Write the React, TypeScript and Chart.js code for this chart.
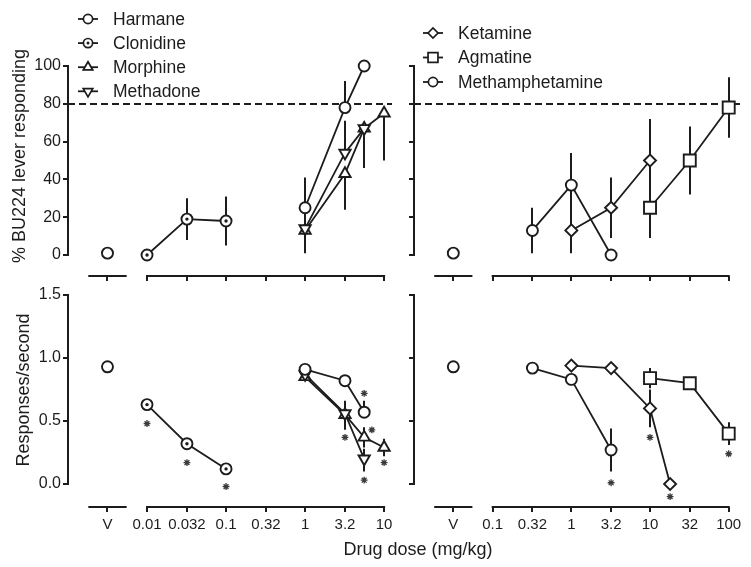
import React, { useEffect, useRef } from 'react';
import { Chart, registerables } from 'chart.js';
import { drawPoint } from 'chart.js/helpers';

Chart.register(...registerables);

// ---------------- axes ----------------
const LEFT_X_TICKS = [0.01, 0.032, 0.1, 0.32, 1, 3.2, 10];
const LEFT_X_LABELS = ['V', '0.01', '0.032', '0.1', '0.32', '1', '3.2', '10'];
const RIGHT_X_TICKS = [0.1, 0.32, 1, 3.2, 10, 32, 100];
const RIGHT_X_LABELS = ['V', '0.1', '0.32', '1', '3.2', '10', '32', '100'];
const V_LEFT = 0.00316; // vehicle position on left dose axis
const V_RIGHT = 0.0316; // vehicle position on right dose axis
const PCT_TICKS = [0, 20, 40, 60, 80, 100];
const PCT_LABELS = ['0', '20', '40', '60', '80', '100'];
const RATE_TICKS = [0, 0.5, 1, 1.5];
const RATE_LABELS = ['0.0', '0.5', '1.0', '1.5'];
const CRITERION = 80;

const LEFT_LEGEND = ['Harmane', 'Clonidine', 'Morphine', 'Methadone'];
const RIGHT_LEGEND = ['Ketamine', 'Agmatine', 'Methamphetamine'];

// ---------------- left panels ----------------
const VEH_L_PCT = 1;
const VEH_L_RATE = 0.93;
const VEH_L_RATE_ERR = 0.04;

const HARMANE_DOSE = [1, 3.2, 5.6];
const HARMANE_PCT = [25, 78, 100];
const HARMANE_PCT_ERR: any[] = [[0, 16], [0, 14], 0];
const HARMANE_RATE = [0.91, 0.82, 0.57];
const HARMANE_RATE_ERR: any[] = [0.02, 0.02, [0, 0.09]];

const CLONIDINE_DOSE = [0.01, 0.032, 0.1];
const CLONIDINE_PCT = [0, 19, 18];
const CLONIDINE_PCT_ERR: any[] = [0, 11, 13];
const CLONIDINE_RATE = [0.63, 0.32, 0.12];
const CLONIDINE_RATE_ERR: any[] = [0.02, 0.04, 0.02];

const MORPHINE_DOSE = [1, 3.2, 5.6, 10];
const MORPHINE_PCT = [13, 43, 67, 75];
const MORPHINE_PCT_ERR: any[] = [[12, 0], [19, 0], [21, 0], [25, 0]];
const MORPHINE_RATE = [0.85, 0.55, 0.37, 0.29];
const MORPHINE_RATE_ERR: any[] = [0.02, [0.12, 0], 0.08, 0.07];

const METHADONE_DOSE = [1, 3.2, 5.6];
const METHADONE_PCT = [14, 54, 67];
const METHADONE_PCT_ERR: any[] = [[0, 12], [0, 17], 0];
const METHADONE_RATE = [0.87, 0.56, 0.2];
const METHADONE_RATE_ERR: any[] = [0.02, [0, 0.1], [0.1, 0.08]];

const LEFT_STAR_DOSE = [0.01, 0.032, 0.1, 3.2, 5.6, 7, 5.6, 10];
const LEFT_STAR_RATE = [0.48, 0.17, -0.02, 0.37, 0.72, 0.43, 0.03, 0.17];

// ---------------- right panels ----------------
const VEH_R_PCT = 1;
const VEH_R_RATE = 0.93;
const VEH_R_RATE_ERR = 0.03;

const KETAMINE_PCT_DOSE = [1, 3.2, 10];
const KETAMINE_PCT = [13, 25, 50];
const KETAMINE_PCT_ERR: any[] = [12, 16, 22];
const KETAMINE_RATE_DOSE = [1, 3.2, 10, 18];
const KETAMINE_RATE = [0.94, 0.92, 0.6, 0.0];
const KETAMINE_RATE_ERR: any[] = [0.02, 0.02, 0.15, 0];

const AGMATINE_DOSE = [10, 32, 100];
const AGMATINE_PCT = [25, 50, 78];
const AGMATINE_PCT_ERR: any[] = [16, 18, 16];
const AGMATINE_RATE = [0.84, 0.8, 0.4];
const AGMATINE_RATE_ERR: any[] = [0.08, 0.03, 0.09];

const METH_DOSE = [0.32, 1, 3.2];
const METH_PCT = [13, 37, 0];
const METH_PCT_ERR: any[] = [12, 17, 0];
const METH_RATE = [0.92, 0.83, 0.27];
const METH_RATE_ERR: any[] = [0.02, 0.03, 0.17];

const RIGHT_STAR_DOSE = [3.2, 10, 18, 100];
const RIGHT_STAR_RATE = [0.01, 0.37, -0.1, 0.24];

// ---------------- styling ----------------
const INK = '#1c1c1c';
const FONT = "'Liberation Sans', Arial, Helvetica, sans-serif";
const CW = 751;
const CH = 567;
const Y_AXIS_W = 50;
const X_AXIS_H = 40;

function series(label: string, doses: number[], vals: number[], errs: any[] | null, mk: any, showLine = true) {
  return {
    label,
    data: doses.map((d, i) => ({ x: d, y: vals[i] })),
    errs,
    showLine,
    borderColor: INK,
    borderWidth: 1.8,
    backgroundColor: '#fff',
    pointStyle: mk.style,
    pointRadius: mk.radius,
    pointHoverRadius: mk.radius,
    pointRotation: mk.rotation || 0,
    pointBackgroundColor: '#fff',
    pointBorderColor: INK,
    pointBorderWidth: 1.9,
    clip: false,
  };
}

// centre dot for the "dotted circle" (clonidine) marker, drawn from the same data
function centreDots(doses: number[], vals: number[]) {
  return {
    label: 'dot',
    data: doses.map((d, i) => ({ x: d, y: vals[i] })),
    errs: null,
    showLine: false,
    pointStyle: 'circle',
    pointRadius: 1.7,
    pointHoverRadius: 1.7,
    pointBackgroundColor: INK,
    pointBorderColor: INK,
    pointBorderWidth: 0,
    clip: false,
  };
}

function stars(doses: number[], vals: number[]) {
  return {
    label: 'significance',
    data: doses.map((d, i) => ({ x: d, y: vals[i] })),
    errs: null,
    showLine: false,
    pointStyle: 'star',
    pointRadius: 3.4,
    pointHoverRadius: 3.4,
    pointBorderColor: '#3a3a3a',
    pointBorderWidth: 1.3,
    pointBackgroundColor: '#3a3a3a',
    clip: false,
  };
}

const errorBarPlugin = {
  id: 'errbars',
  beforeDatasetsDraw(chart: any) {
    const { ctx } = chart;
    const xs = chart.scales.x;
    const ys = chart.scales.y;
    ctx.save();
    ctx.strokeStyle = INK;
    ctx.lineWidth = 2;
    chart.data.datasets.forEach((d: any) => {
      if (!d.errs) return;
      d.data.forEach((p: any, i: number) => {
        const e = d.errs[i];
        const [lo, hi] = typeof e === 'number' ? [e, e] : e;
        if (!lo && !hi) return;
        const x = Math.round(xs.getPixelForValue(p.x));
        ctx.beginPath();
        ctx.moveTo(x, ys.getPixelForValue(p.y - lo));
        ctx.lineTo(x, ys.getPixelForValue(p.y + hi));
        ctx.stroke();
      });
    });
    ctx.restore();
  },
};

function buildConfig(p: any) {
  const xTickValues = [p.vDose, ...p.tickDoses];
  const axesPlugin = {
    id: 'brokenAxes',
    beforeDatasetsDraw(chart: any) {
      const { ctx, chartArea } = chart;
      const xs = chart.scales.x;
      const ys = chart.scales.y;
      ctx.save();
      ctx.strokeStyle = INK;
      ctx.lineWidth = 2;
      const left = Math.round(chartArea.left);
      const bottom = Math.round(chartArea.bottom);
      ctx.beginPath();
      ctx.moveTo(left, ys.getPixelForValue(p.yTicks[p.yTicks.length - 1]) - 1);
      ctx.lineTo(left, ys.getPixelForValue(p.yTicks[0]) + 1);
      ctx.stroke();
      const segs = [
        [p.vDose / Math.pow(10, 0.23), p.vDose * Math.pow(10, 0.23)],
        [p.tickDoses[0], p.tickDoses[p.tickDoses.length - 1]],
      ];
      segs.forEach(([a, b]) => {
        ctx.beginPath();
        ctx.moveTo(xs.getPixelForValue(a) - 1, bottom);
        ctx.lineTo(xs.getPixelForValue(b) + 1, bottom);
        ctx.stroke();
      });
      if (p.refLine != null) {
        const y = Math.round(ys.getPixelForValue(p.refLine));
        ctx.setLineDash([7, 4]);
        ctx.beginPath();
        ctx.moveTo(left, y);
        ctx.lineTo(chartArea.right, y);
        ctx.stroke();
      }
      ctx.restore();
    },
  };
  const legendPlugin = {
    id: 'lineLegend',
    afterDraw(chart: any) {
      if (!p.legend) return;
      const { ctx } = chart;
      const L = p.legend;
      ctx.save();
      L.items.forEach((it: any, i: number) => {
        const y = L.y0 + i * L.step;
        const cx = (L.x0 + L.x1) / 2;
        ctx.strokeStyle = INK;
        ctx.lineWidth = 1.8;
        ctx.beginPath();
        ctx.moveTo(L.x0, y);
        ctx.lineTo(L.x1, y);
        ctx.stroke();
        ctx.fillStyle = '#fff';
        ctx.strokeStyle = INK;
        ctx.lineWidth = 1.7;
        drawPoint(ctx, { pointStyle: it.mk.style, radius: it.mk.radius, rotation: it.mk.rotation || 0, borderWidth: 1.7 } as any, cx, y);
        if (it.dot) {
          ctx.fillStyle = INK;
          drawPoint(ctx, { pointStyle: 'circle', radius: 1.5, rotation: 0, borderWidth: 0 } as any, cx, y);
        }
        ctx.fillStyle = INK;
        ctx.font = `17.5px ${FONT}`;
        ctx.textAlign = 'left';
        ctx.textBaseline = 'middle';
        ctx.fillText(it.label, L.textX, y + 1);
      });
      ctx.restore();
    },
  };
  return {
    type: 'scatter',
    data: { datasets: p.datasets },
    plugins: [errorBarPlugin, axesPlugin, legendPlugin],
    options: {
      responsive: false,
      maintainAspectRatio: false,
      animation: false,
      devicePixelRatio: 1,
      events: [],
      layout: { padding: p.padding },
      plugins: { legend: { display: false }, tooltip: { enabled: false }, title: { display: false } },
      scales: {
        x: {
          type: 'logarithmic',
          position: 'bottom',
          min: p.xMin,
          max: p.xMax,
          bounds: 'data',
          afterBuildTicks: (s: any) => {
            s.ticks = xTickValues.map((v: number) => ({ value: v }));
          },
          afterFit: (s: any) => {
            s.height = X_AXIS_H;
          },
          grid: { display: true, drawOnChartArea: false, drawTicks: true, tickLength: 5, lineWidth: 2, color: INK },
          border: { display: false },
          ticks: {
            display: p.showXLabels,
            autoSkip: false,
            maxRotation: 0,
            minRotation: 0,
            padding: 4,
            color: INK,
            font: { family: FONT, size: 15 },
            callback: (_v: any, i: number) => p.tickLabels[i],
          },
        },
        y: {
          type: 'linear',
          position: 'left',
          min: p.yMin,
          max: p.yMax,
          bounds: 'data',
          afterBuildTicks: (s: any) => {
            s.ticks = p.yTicks.map((v: number) => ({ value: v }));
          },
          afterFit: (s: any) => {
            s.width = Y_AXIS_W;
          },
          grid: { display: true, drawOnChartArea: false, drawTicks: true, tickLength: 5, lineWidth: 2, color: INK },
          border: { display: false },
          ticks: {
            display: p.showYLabels,
            padding: 2,
            color: INK,
            font: { family: FONT, size: 16 },
            callback: (_v: any, i: number) => p.yLabels[i],
          },
        },
      },
    },
  } as any;
}

function area(left: number, top: number, right: number, bottom: number) {
  return { left: left - Y_AXIS_W, top, right: CW - right, bottom: CH - bottom - X_AXIS_H };
}

export default function App() {
  const r0 = useRef<HTMLCanvasElement>(null);
  const r1 = useRef<HTMLCanvasElement>(null);
  const r2 = useRef<HTMLCanvasElement>(null);
  const r3 = useRef<HTMLCanvasElement>(null);

  useEffect(() => {
    const MK: any = {
      circle: { style: 'circle', radius: 5.5 },
      triUp: { style: 'triangle', radius: 6.5 },
      triDown: { style: 'triangle', radius: 6.5, rotation: 180 },
      diamond: { style: 'rectRot', radius: 6 },
      square: { style: 'rect', radius: 8.5 },
    };
    const LMK: any = {
      circle: { style: 'circle', radius: 4.6 },
      triUp: { style: 'triangle', radius: 5.5 },
      triDown: { style: 'triangle', radius: 5.5, rotation: 180 },
      diamond: { style: 'rectRot', radius: 5 },
      square: { style: 'rect', radius: 7 },
    };
    const leftX = { xMin: 0.001, xMax: Math.pow(10, 1.1), vDose: V_LEFT, tickDoses: LEFT_X_TICKS, tickLabels: LEFT_X_LABELS };
    const rightX = { xMin: 0.01, xMax: Math.pow(10, 2.15), vDose: V_RIGHT, tickDoses: RIGHT_X_TICKS, tickLabels: RIGHT_X_LABELS };
    const pctY = { yMin: -11.1, yMax: 100, yTicks: PCT_TICKS, yLabels: PCT_LABELS };
    const rateY = { yMin: -0.1825, yMax: 1.5, yTicks: RATE_TICKS, yLabels: RATE_LABELS };

    const panels = [
      {
        ...leftX, ...pctY,
        padding: area(68, 66, 392, 276),
        showXLabels: false, showYLabels: true, refLine: CRITERION,
        legend: {
          x0: 78, x1: 98, textX: 113, y0: 19, step: 24.1,
          items: [
            { label: LEFT_LEGEND[0], mk: LMK.circle },
            { label: LEFT_LEGEND[1], mk: LMK.circle, dot: true },
            { label: LEFT_LEGEND[2], mk: LMK.triUp },
            { label: LEFT_LEGEND[3], mk: LMK.triDown },
          ],
        },
        datasets: [
          centreDots(CLONIDINE_DOSE, CLONIDINE_PCT),
          series('Vehicle', [V_LEFT], [VEH_L_PCT], null, MK.circle, false),
          series(LEFT_LEGEND[0], HARMANE_DOSE, HARMANE_PCT, HARMANE_PCT_ERR, MK.circle),
          series(LEFT_LEGEND[1], CLONIDINE_DOSE, CLONIDINE_PCT, CLONIDINE_PCT_ERR, MK.circle),
          series(LEFT_LEGEND[3], METHADONE_DOSE, METHADONE_PCT, METHADONE_PCT_ERR, MK.triDown),
          series(LEFT_LEGEND[2], MORPHINE_DOSE, MORPHINE_PCT, MORPHINE_PCT_ERR, MK.triUp),
        ],
      },
      {
        ...rightX, ...pctY,
        padding: area(414, 66, 740.5, 276),
        showXLabels: false, showYLabels: false, refLine: CRITERION,
        legend: {
          x0: 423, x1: 443, textX: 458, y0: 33, step: 24.5,
          items: [
            { label: RIGHT_LEGEND[0], mk: LMK.diamond },
            { label: RIGHT_LEGEND[1], mk: LMK.square },
            { label: RIGHT_LEGEND[2], mk: LMK.circle },
          ],
        },
        datasets: [
          series('Vehicle', [V_RIGHT], [VEH_R_PCT], null, MK.circle, false),
          series(RIGHT_LEGEND[2], METH_DOSE, METH_PCT, METH_PCT_ERR, MK.circle),
          series(RIGHT_LEGEND[0], KETAMINE_PCT_DOSE, KETAMINE_PCT, KETAMINE_PCT_ERR, MK.diamond),
          series(RIGHT_LEGEND[1], AGMATINE_DOSE, AGMATINE_PCT, AGMATINE_PCT_ERR, MK.square),
        ],
      },
      {
        ...leftX, ...rateY,
        padding: area(68, 295, 392, 507),
        showXLabels: true, showYLabels: true, refLine: null,
        datasets: [
          stars(LEFT_STAR_DOSE, LEFT_STAR_RATE),
          centreDots(CLONIDINE_DOSE, CLONIDINE_RATE),
          series('Vehicle', [V_LEFT], [VEH_L_RATE], [VEH_L_RATE_ERR], MK.circle, false),
          series(LEFT_LEGEND[0], HARMANE_DOSE, HARMANE_RATE, HARMANE_RATE_ERR, MK.circle),
          series(LEFT_LEGEND[1], CLONIDINE_DOSE, CLONIDINE_RATE, CLONIDINE_RATE_ERR, MK.circle),
          series(LEFT_LEGEND[3], METHADONE_DOSE, METHADONE_RATE, METHADONE_RATE_ERR, MK.triDown),
          series(LEFT_LEGEND[2], MORPHINE_DOSE, MORPHINE_RATE, MORPHINE_RATE_ERR, MK.triUp),
        ],
      },
      {
        ...rightX, ...rateY,
        padding: area(414, 295, 740.5, 507),
        showXLabels: true, showYLabels: false, refLine: null,
        datasets: [
          stars(RIGHT_STAR_DOSE, RIGHT_STAR_RATE),
          series('Vehicle', [V_RIGHT], [VEH_R_RATE], [VEH_R_RATE_ERR], MK.circle, false),
          series(RIGHT_LEGEND[1], AGMATINE_DOSE, AGMATINE_RATE, AGMATINE_RATE_ERR, MK.square),
          series(RIGHT_LEGEND[0], KETAMINE_RATE_DOSE, KETAMINE_RATE, KETAMINE_RATE_ERR, MK.diamond),
          series(RIGHT_LEGEND[2], METH_DOSE, METH_RATE, METH_RATE_ERR, MK.circle),
        ],
      },
    ];
    const refs = [r0, r1, r2, r3];
    const charts = panels.map((p, i) => new Chart(refs[i].current as HTMLCanvasElement, buildConfig(p)));
    return () => charts.forEach((c) => c.destroy());
  }, []);

  const canvasStyle: React.CSSProperties = { position: 'absolute', left: 0, top: 0, width: CW, height: CH };
  const vTitle = (cx: number, cy: number): React.CSSProperties => ({
    position: 'absolute',
    left: cx,
    top: cy,
    transform: 'translate(-50%, -50%) rotate(-90deg)',
    whiteSpace: 'nowrap',
    fontSize: 18,
    lineHeight: '20px',
  });
  return (
    <div style={{ position: 'absolute', left: 0, top: 0, width: CW, height: CH, background: '#fff', fontFamily: FONT, color: INK, overflow: 'hidden' }}>
      <canvas ref={r0} width={CW} height={CH} style={canvasStyle} />
      <canvas ref={r1} width={CW} height={CH} style={canvasStyle} />
      <canvas ref={r2} width={CW} height={CH} style={canvasStyle} />
      <canvas ref={r3} width={CW} height={CH} style={canvasStyle} />
      <div style={vTitle(19, 156)}>% BU224 lever responding</div>
      <div style={vTitle(23, 390)}>Responses/second</div>
      <div style={{ position: 'absolute', left: 418, top: 549, transform: 'translate(-50%, -50%)', whiteSpace: 'nowrap', fontSize: 18, lineHeight: '20px' }}>
        Drug dose (mg/kg)
      </div>
    </div>
  );
}
